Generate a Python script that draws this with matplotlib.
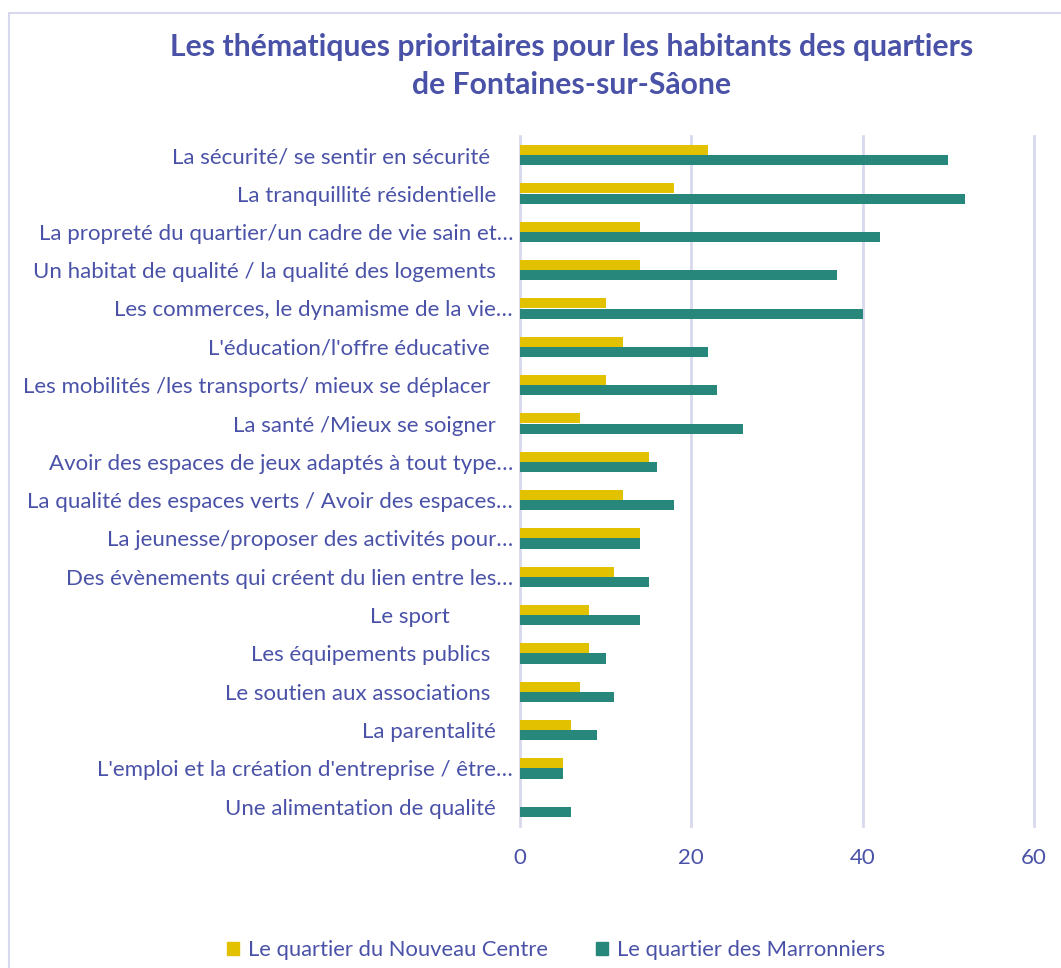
import numpy as np
import matplotlib.pyplot as plt
from matplotlib.patches import Rectangle

# categories top -> bottom (trailing spaces as in the original labels)
categories = [
    "La sécurité/ se sentir en sécurité    ",
    "La tranquillité résidentielle   ",
    "La propreté du quartier/un cadre de vie sain et…",
    "Un habitat de qualité / la qualité des logements   ",
    "Les commerces, le dynamisme de la vie…",
    "L'éducation/l'offre éducative    ",
    "Les mobilités /les transports/ mieux se déplacer    ",
    "La santé /Mieux se soigner   ",
    "Avoir des espaces de jeux adaptés à tout type…",
    "La qualité des espaces verts / Avoir des espaces…",
    "La jeunesse/proposer des activités pour…",
    "Des évènements qui créent du lien entre les…",
    "Le sport           ",
    "Les équipements publics    ",
    "Le soutien aux associations    ",
    "La parentalité   ",
    "L'emploi et la création d'entreprise / être…",
    "Une alimentation de qualité   ",
]
nouveau_centre = [22, 18, 14, 14, 10, 12, 10, 7, 15, 12, 14, 11, 8, 8, 7, 6, 5, 0]
marronniers = [50, 52, 42, 37, 40, 22, 23, 26, 16, 18, 14, 15, 14, 10, 11, 9, 5, 6]
xticks = [0, 20, 40, 60]

title = "Les thématiques prioritaires pour les habitants des quartiers\nde Fontaines-sur-Sâone"
series_names = ["Le quartier du Nouveau Centre", "Le quartier des Marronniers"]

blue = "#4A52A8"
yellow = "#E2C200"
green = "#26877A"
grid_col = "#D8D8EE"

plt.rcParams['font.family'] = ['Lato', 'DejaVu Sans']

fig = plt.figure(figsize=(10.61, 9.68), dpi=100)
ax = fig.add_axes([520 / 1061, 1 - 826 / 968, (1034 - 520) / 1061, (826 - 136) / 968])

y = np.arange(len(categories))
h = 0.265
ax.barh(y - h / 2, nouveau_centre, height=h, color=yellow, zorder=3)
ax.barh(y + h / 2, marronniers, height=h, color=green, zorder=3)

ax.set_ylim(len(categories) - 0.5, -0.5)
ax.set_xlim(0, 60)
ax.set_yticks(y)
ax.set_yticklabels(categories, fontsize=16, color=blue)
ax.set_xticks(xticks)
ax.set_xticklabels([str(t) for t in xticks], fontsize=16, color=blue)
ax.tick_params(axis='both', length=0)
ax.tick_params(axis='y', pad=5)
ax.tick_params(axis='x', pad=16)
ax.xaxis.grid(True, color=grid_col, linewidth=2, zorder=0, clip_on=False)
for s in ax.spines.values():
    s.set_visible(False)

fig.text(572 / 1061, 1 - 66 / 968, title, ha='center', va='center', fontsize=21.7,
         fontweight='bold', color=blue, linespacing=1.4)

# legend
handles = [Rectangle((0, 0), 1, 1, color=yellow), Rectangle((0, 0), 1, 1, color=green)]
fig.legend(handles, series_names, loc='center', bbox_to_anchor=(556 / 1061, 1 - 950 / 968),
           ncol=2, frameon=False, fontsize=15.8, labelcolor=blue, handlelength=0.55,
           handleheight=0.55, handletextpad=0.4, columnspacing=2.2)

# chart frame
fig.patches.append(Rectangle((9 / 1061, -0.1), 1.2, 1 - 13 / 968 + 0.1, transform=fig.transFigure,
                             fill=False, edgecolor=grid_col, linewidth=1.5))

fig.savefig("out.png", dpi=100)
